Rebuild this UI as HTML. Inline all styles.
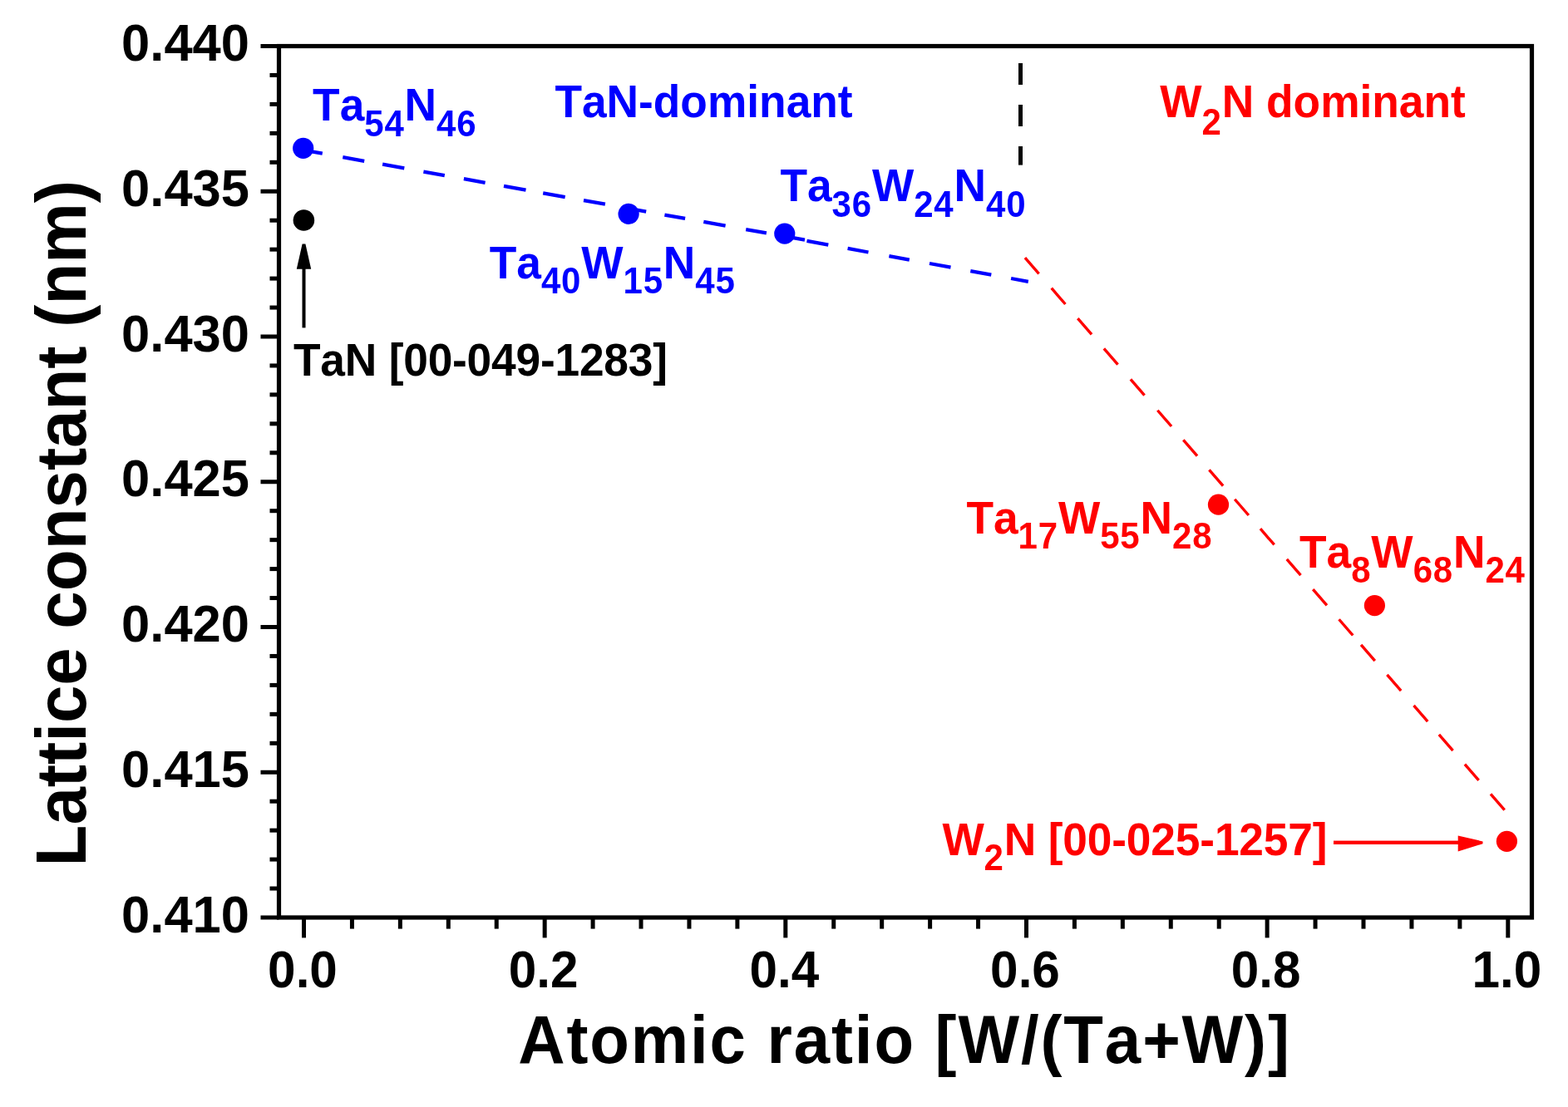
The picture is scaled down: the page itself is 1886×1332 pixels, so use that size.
<!DOCTYPE html>
<html><head><meta charset="utf-8"><title>Lattice constant vs atomic ratio</title><style>
html,body{margin:0;padding:0;background:#fff;overflow:hidden;}
svg{display:block;}
text{font-family:"Liberation Sans",Arial,Helvetica,sans-serif;font-weight:bold;font-kerning:none;}
</style></head><body>
<svg width="1886" height="1332" viewBox="0 0 1886 1332">
<rect width="1886" height="1332" fill="#fff"/>
<!-- fit lines -->
<path d="M364.7 180.60L387.8 184.74M412.3 189.13L438.2 193.77M460.1 197.70L486.3 202.40M509.4 206.54L534.8 211.09M557.9 215.23L583.6 219.84M606.0 223.85L632.5 228.60M653.2 232.31L679.7 237.06M702.0 241.06L727.9 245.70M751.0 249.84L777.2 254.54M799.4 258.52L824.1 262.94M846.3 266.92L872.6 271.64M897.2 276.05L921.9 280.47M944.0 284.44L968.0 288.74M970.5 289.90L996.3 294.64M1019.6 298.92L1044.5 303.49M1069.4 308.06L1093.8 312.54M1118.0 316.99L1143.5 321.67M1167.3 326.04L1192.3 330.63M1216.1 335.00L1236.8 338.80" stroke="#0000ff" stroke-width="4.3" fill="none"/>
<path d="M1232.90 310.04L1249.61 329.30M1264.73 346.73L1281.45 365.99M1296.32 383.13L1313.03 402.38M1327.82 419.43L1344.54 438.69M1359.87 456.36L1376.58 475.61M1392.32 493.75L1409.03 513.01M1423.31 529.46L1440.02 548.72M1454.42 565.31L1471.13 584.57M1485.17 600.74L1501.88 620.00M1515.96 636.22L1532.67 655.48M1547.77 672.88L1564.48 692.14M1579.25 709.16L1595.96 728.42M1610.56 745.24L1627.28 764.50M1637.06 775.78L1653.77 795.04M1668.41 811.90L1685.13 831.16M1700.51 848.89L1717.22 868.15M1730.84 883.84L1747.55 903.10M1761.89 919.63L1778.61 938.89M1792.96 955.42L1809.67 974.68" stroke="#ff0000" stroke-width="3.4" fill="none"/>
<!-- vertical divider at W/(Ta+W)=0.6 -->
<g fill="#000"><rect x="1225" y="76" width="5" height="26"/><rect x="1225" y="126" width="5" height="26"/><rect x="1225" y="176" width="5" height="22.6"/></g>
<!-- frame -->
<rect x="335.5" y="55.5" width="1507" height="1048.5" fill="none" stroke="#000" stroke-width="5.2"/>
<g stroke="#000" stroke-width="5">
<line x1="313.5" y1="55.50" x2="335.5" y2="55.50"/>
<line x1="313.5" y1="230.25" x2="335.5" y2="230.25"/>
<line x1="313.5" y1="405.00" x2="335.5" y2="405.00"/>
<line x1="313.5" y1="579.75" x2="335.5" y2="579.75"/>
<line x1="313.5" y1="754.50" x2="335.5" y2="754.50"/>
<line x1="313.5" y1="929.25" x2="335.5" y2="929.25"/>
<line x1="313.5" y1="1104.00" x2="335.5" y2="1104.00"/>
<line x1="324.5" y1="90.45" x2="335.5" y2="90.45"/>
<line x1="324.5" y1="125.40" x2="335.5" y2="125.40"/>
<line x1="324.5" y1="160.35" x2="335.5" y2="160.35"/>
<line x1="324.5" y1="195.30" x2="335.5" y2="195.30"/>
<line x1="324.5" y1="265.20" x2="335.5" y2="265.20"/>
<line x1="324.5" y1="300.15" x2="335.5" y2="300.15"/>
<line x1="324.5" y1="335.10" x2="335.5" y2="335.10"/>
<line x1="324.5" y1="370.05" x2="335.5" y2="370.05"/>
<line x1="324.5" y1="439.95" x2="335.5" y2="439.95"/>
<line x1="324.5" y1="474.90" x2="335.5" y2="474.90"/>
<line x1="324.5" y1="509.85" x2="335.5" y2="509.85"/>
<line x1="324.5" y1="544.80" x2="335.5" y2="544.80"/>
<line x1="324.5" y1="614.70" x2="335.5" y2="614.70"/>
<line x1="324.5" y1="649.65" x2="335.5" y2="649.65"/>
<line x1="324.5" y1="684.60" x2="335.5" y2="684.60"/>
<line x1="324.5" y1="719.55" x2="335.5" y2="719.55"/>
<line x1="324.5" y1="789.45" x2="335.5" y2="789.45"/>
<line x1="324.5" y1="824.40" x2="335.5" y2="824.40"/>
<line x1="324.5" y1="859.35" x2="335.5" y2="859.35"/>
<line x1="324.5" y1="894.30" x2="335.5" y2="894.30"/>
<line x1="324.5" y1="964.20" x2="335.5" y2="964.20"/>
<line x1="324.5" y1="999.15" x2="335.5" y2="999.15"/>
<line x1="324.5" y1="1034.10" x2="335.5" y2="1034.10"/>
<line x1="324.5" y1="1069.05" x2="335.5" y2="1069.05"/>
<line x1="365.50" y1="1104" x2="365.50" y2="1128.4"/>
<line x1="655.16" y1="1104" x2="655.16" y2="1128.4"/>
<line x1="944.82" y1="1104" x2="944.82" y2="1128.4"/>
<line x1="1234.48" y1="1104" x2="1234.48" y2="1128.4"/>
<line x1="1524.14" y1="1104" x2="1524.14" y2="1128.4"/>
<line x1="1813.80" y1="1104" x2="1813.80" y2="1128.4"/>
<line x1="423.43" y1="1104" x2="423.43" y2="1117.6"/>
<line x1="481.36" y1="1104" x2="481.36" y2="1117.6"/>
<line x1="539.30" y1="1104" x2="539.30" y2="1117.6"/>
<line x1="597.23" y1="1104" x2="597.23" y2="1117.6"/>
<line x1="713.09" y1="1104" x2="713.09" y2="1117.6"/>
<line x1="771.02" y1="1104" x2="771.02" y2="1117.6"/>
<line x1="828.96" y1="1104" x2="828.96" y2="1117.6"/>
<line x1="886.89" y1="1104" x2="886.89" y2="1117.6"/>
<line x1="1002.75" y1="1104" x2="1002.75" y2="1117.6"/>
<line x1="1060.68" y1="1104" x2="1060.68" y2="1117.6"/>
<line x1="1118.62" y1="1104" x2="1118.62" y2="1117.6"/>
<line x1="1176.55" y1="1104" x2="1176.55" y2="1117.6"/>
<line x1="1292.41" y1="1104" x2="1292.41" y2="1117.6"/>
<line x1="1350.34" y1="1104" x2="1350.34" y2="1117.6"/>
<line x1="1408.28" y1="1104" x2="1408.28" y2="1117.6"/>
<line x1="1466.21" y1="1104" x2="1466.21" y2="1117.6"/>
<line x1="1582.07" y1="1104" x2="1582.07" y2="1117.6"/>
<line x1="1640.00" y1="1104" x2="1640.00" y2="1117.6"/>
<line x1="1697.94" y1="1104" x2="1697.94" y2="1117.6"/>
<line x1="1755.87" y1="1104" x2="1755.87" y2="1117.6"/>
</g>
<g font-size="61.5" fill="#000">
<text transform="translate(300,73.0) scale(1.0,1.02)" text-anchor="end">0.440</text>
<text transform="translate(300,247.8) scale(1.0,1.02)" text-anchor="end">0.435</text>
<text transform="translate(300,422.5) scale(1.0,1.02)" text-anchor="end">0.430</text>
<text transform="translate(300,597.2) scale(1.0,1.02)" text-anchor="end">0.425</text>
<text transform="translate(300,772.0) scale(1.0,1.02)" text-anchor="end">0.420</text>
<text transform="translate(300,946.8) scale(1.0,1.02)" text-anchor="end">0.415</text>
<text transform="translate(300,1121.5) scale(1.0,1.02)" text-anchor="end">0.410</text>
<text transform="translate(364.0,1187.5) scale(0.98,1.02)" text-anchor="middle">0.0</text>
<text transform="translate(653.7,1187.5) scale(0.98,1.02)" text-anchor="middle">0.2</text>
<text transform="translate(943.3,1187.5) scale(0.98,1.02)" text-anchor="middle">0.4</text>
<text transform="translate(1233.0,1187.5) scale(0.98,1.02)" text-anchor="middle">0.6</text>
<text transform="translate(1522.6,1187.5) scale(0.98,1.02)" text-anchor="middle">0.8</text>
<text transform="translate(1812.3,1187.5) scale(0.98,1.02)" text-anchor="middle">1.0</text>
</g>
<text transform="translate(1088.0,1278.5) scale(1,1.04)" font-size="78" letter-spacing="1.9" text-anchor="middle" fill="#000">Atomic ratio [W/(Ta+W)]</text>
<text transform="translate(102.7,629.7) rotate(-90) scale(1,1.04)" font-size="81.65" letter-spacing="0" text-anchor="middle" fill="#000">Lattice constant (nm)</text>
<!-- data points -->
<circle cx="364.7" cy="178.3" r="12.6" fill="#0000ff"/>
<circle cx="756.1" cy="257.3" r="12.6" fill="#0000ff"/>
<circle cx="943.8" cy="281.1" r="12.6" fill="#0000ff"/>
<circle cx="365.4" cy="265" r="12.8" fill="#000"/>
<circle cx="1465.5" cy="607.2" r="12.6" fill="#ff0000"/>
<circle cx="1653.4" cy="728.6" r="12.6" fill="#ff0000"/>
<circle cx="1812.4" cy="1012.4" r="12.6" fill="#ff0000"/>
<!-- arrows -->
<rect x="363.5" y="320" width="4" height="74.4" fill="#000"/>
<polygon points="363.6,293.4 367.4,293.4 374.2,323.8 356.8,323.8" fill="#000"/>
<rect x="1604" y="1011.6" width="152" height="4.4" fill="#ff0000"/>
<polygon points="1753.7,1005.6 1783.5,1012.4 1783.5,1015.2 1753.7,1024.5" fill="#ff0000"/>
<!-- labels -->
<text transform="translate(376.1,145.2) scale(1,1.04)" fill="#0000ff" text-anchor="start"><tspan font-size="53.3" letter-spacing="0">Ta</tspan><tspan font-size="42" letter-spacing="0.8" dy="18">54</tspan><tspan font-size="53.3" letter-spacing="0" dy="-18">N</tspan><tspan font-size="42" letter-spacing="0.8" dy="18">46</tspan></text>
<text transform="translate(667.4,141.3) scale(1,1.04)" fill="#0000ff" text-anchor="start"><tspan font-size="53.3" letter-spacing="0">TaN-dominant</tspan></text>
<text transform="translate(588.7,334.6) scale(1,1.04)" fill="#0000ff" text-anchor="start"><tspan font-size="53.3" letter-spacing="0">Ta</tspan><tspan font-size="42" letter-spacing="0.8" dy="18">40</tspan><tspan font-size="53.3" letter-spacing="0" dy="-18">W</tspan><tspan font-size="42" letter-spacing="0.8" dy="18">15</tspan><tspan font-size="53.3" letter-spacing="0" dy="-18">N</tspan><tspan font-size="42" letter-spacing="0.8" dy="18">45</tspan></text>
<text transform="translate(938.4,242) scale(1,1.04)" fill="#0000ff" text-anchor="start"><tspan font-size="53.3" letter-spacing="0">Ta</tspan><tspan font-size="42" letter-spacing="0.8" dy="18">36</tspan><tspan font-size="53.3" letter-spacing="0" dy="-18">W</tspan><tspan font-size="42" letter-spacing="0.8" dy="18">24</tspan><tspan font-size="53.3" letter-spacing="0" dy="-18">N</tspan><tspan font-size="42" letter-spacing="0.8" dy="18">40</tspan></text>
<text transform="translate(1395.3,141.1) scale(1,1.04)" fill="#ff0000" text-anchor="start"><tspan font-size="53.3" letter-spacing="0">W</tspan><tspan font-size="42" letter-spacing="0.8" dy="20.5">2</tspan><tspan font-size="53.3" letter-spacing="0" dy="-20.5">N dominant</tspan></text>
<text transform="translate(1162.4,641.7) scale(1,1.04)" fill="#ff0000" text-anchor="start"><tspan font-size="53.3" letter-spacing="0">Ta</tspan><tspan font-size="42" letter-spacing="0.8" dy="18">17</tspan><tspan font-size="53.3" letter-spacing="0" dy="-18">W</tspan><tspan font-size="42" letter-spacing="0.8" dy="18">55</tspan><tspan font-size="53.3" letter-spacing="0" dy="-18">N</tspan><tspan font-size="42" letter-spacing="0.8" dy="18">28</tspan></text>
<text transform="translate(1563,682.5) scale(1,1.04)" fill="#ff0000" text-anchor="start"><tspan font-size="53.3" letter-spacing="0">Ta</tspan><tspan font-size="42" letter-spacing="0.8" dy="18">8</tspan><tspan font-size="53.3" letter-spacing="0" dy="-18">W</tspan><tspan font-size="42" letter-spacing="0.8" dy="18">68</tspan><tspan font-size="53.3" letter-spacing="0" dy="-18">N</tspan><tspan font-size="42" letter-spacing="0.8" dy="18">24</tspan></text>
<text transform="translate(1133.4,1028.7) scale(1,1.04)" fill="#ff0000" text-anchor="start"><tspan font-size="53.3" letter-spacing="-0.15">W</tspan><tspan font-size="42" letter-spacing="0.8" dy="18">2</tspan><tspan font-size="53.3" letter-spacing="-0.15" dy="-18">N [00-025-1257]</tspan></text>
<text transform="translate(353.0,451.6) scale(1,1.04)" fill="#000" text-anchor="start"><tspan font-size="53.3" letter-spacing="-0.2">TaN [00-049-1283]</tspan></text>
</svg>
</body></html>
